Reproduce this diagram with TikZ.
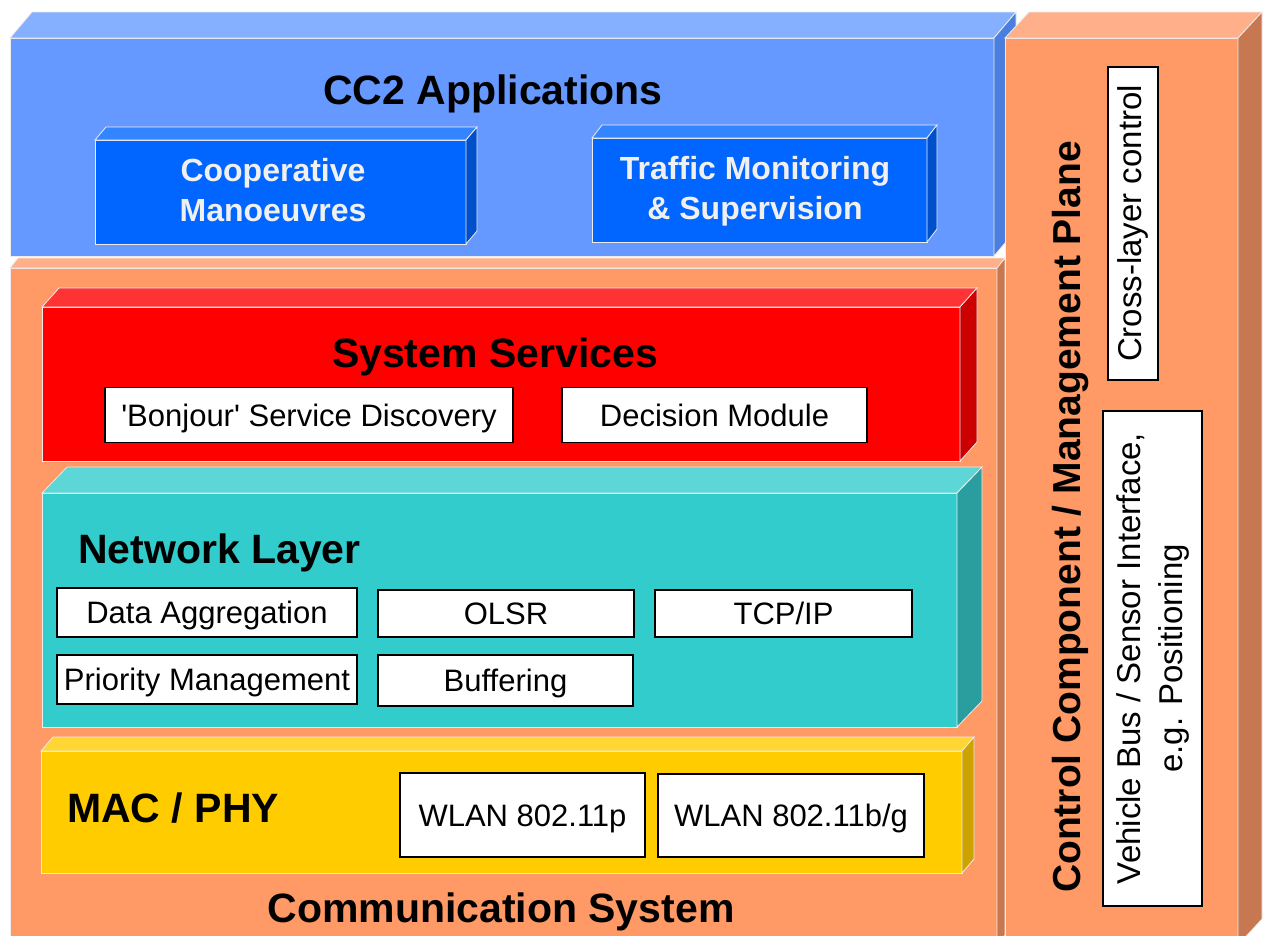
\documentclass[tikz,border=0pt]{standalone}
\usepackage{fontspec}
\setmainfont{Liberation Sans}
\definecolor{bluefront}{HTML}{6699FF}
\definecolor{bluetop}{HTML}{85B0FF}
\definecolor{blueside}{HTML}{4A7FE0}
\definecolor{dbfront}{HTML}{0066FF}
\definecolor{dbtop}{HTML}{3385FF}
\definecolor{dbside}{HTML}{0050CC}
\definecolor{orfront}{HTML}{FF9966}
\definecolor{ortop}{HTML}{FFB08A}
\definecolor{orside}{HTML}{C87850}
\definecolor{redfront}{HTML}{FF0000}
\definecolor{redtop}{HTML}{FF3333}
\definecolor{redside}{HTML}{CC0000}
\definecolor{tealfront}{HTML}{33CCCC}
\definecolor{tealtop}{HTML}{5CD6D6}
\definecolor{tealside}{HTML}{2A9E9E}
\definecolor{yelfront}{HTML}{FFCC00}
\definecolor{yeltop}{HTML}{FFD633}
\definecolor{yelside}{HTML}{CCA300}
\newcommand\mycuboid[9]{%
  \filldraw[fill=#7,edge] (#1,#2) rectangle (#3,#4);
  \filldraw[fill=#8,edge] (#1,#2) -- ({#1+#5},{#2-#6}) -- ({#3+#5},{#2-#6}) -- (#3,#2) -- cycle;
  \filldraw[fill=#9,edge] (#3,#2) -- ({#3+#5},{#2-#6}) -- ({#3+#5},{#4-#6}) -- (#3,#4) -- cycle;
}
\begin{document}
\begin{tikzpicture}[x=1pt,y=-1pt,
  edge/.style={draw=white!85!gray,line width=0.8pt},
  title/.style={font=\fontsize{41}{48}\selectfont\bfseries,inner sep=0pt},
  lbl/.style={draw=black,line width=1.5pt,fill=white,inner sep=0pt,font=\fontsize{31}{40}\selectfont},
  lblone/.style={lbl,text height=28pt,text depth=6pt},
  vlbl/.style={lbl,rotate=90,font=\fontsize{33}{42}\selectfont},
  apptext/.style={text=white!94!black,font=\fontsize{32}{40}\selectfont\bfseries,align=center,inner sep=0pt}]
\clip (0,0) rectangle (1265,935);
\fill[white] (0,0) rectangle (1265,935);
% CC2 applications
\mycuboid{10}{38}{994}{256}{22}{26}{bluefront}{bluetop}{blueside}
\mycuboid{95}{140}{466}{244}{11}{13}{dbfront}{dbtop}{dbside}
\mycuboid{592}{138}{927}{242}{10}{13}{dbfront}{dbtop}{dbside}
% communication system
\mycuboid{10}{268}{997}{945}{8}{10}{orfront}{ortop}{orside}
% control plane
\mycuboid{1005}{38}{1238}{945}{24}{26}{orfront}{ortop}{orside}
% layers
\mycuboid{42}{307}{960}{461}{17}{19}{redfront}{redtop}{redside}
\mycuboid{42}{493}{957}{727}{25}{26}{tealfront}{tealtop}{tealside}
\mycuboid{41}{751}{962}{873}{12}{14}{yelfront}{yeltop}{yelside}
% texts
\node[title,anchor=base] (cc2) at (493,104) {CC2 Applications};
\node[apptext] (coop) at (273,190) {Cooperative\\Manoeuvres};
\node[apptext] (traffic) at (755,191) {Traffic Monitoring\\\& Supervision};
\node[title,anchor=base] (sys) at (495,367) {System Services};
\node[lblone,minimum width=408,minimum height=55] (bonjour) at (309,415) {\textquotesingle Bonjour\textquotesingle{} Service Discovery};
\node[lblone,minimum width=305,minimum height=55] (decision) at (714.5,415) {Decision Module};
\node[title,anchor=base west] (net) at (78,563) {Network Layer};
\node[lblone,minimum width=300,minimum height=49] (aggr) at (207,612.5) {Data Aggregation};
\node[lblone,minimum width=256,minimum height=47] (olsr) at (506,613.5) {OLSR};
\node[lblone,minimum width=257,minimum height=47] (tcp) at (783.5,613.5) {TCP/IP};
\node[lblone,minimum width=300,minimum height=49] (prio) at (207,679.5) {Priority Management};
\node[lblone,minimum width=255,minimum height=51] (buf) at (505.5,680.5) {Buffering};
\node[title,anchor=base west] (mac) at (67,822) {MAC / PHY};
\node[lblone,minimum width=245,minimum height=84] (wlanp) at (522.5,815) {WLAN 802.11p};
\node[lblone,minimum width=266,minimum height=83] (wlanbg) at (791,815.5) {WLAN 802.11b/g};
\node[title,anchor=base] (comm) at (501,922) {Communication System};
\node[title,font=\fontsize{39}{46}\selectfont\bfseries,rotate=90,anchor=base] (ctrl) at (1080,517) {Control Component / Management Plane};
\node[vlbl,minimum width=313,minimum height=50] (cross) at (1133,223.5) {Cross-layer control};
\node[vlbl,minimum width=495,minimum height=99,align=center] (vehicle) at (1152.5,658.5) {Vehicle Bus / Sensor Interface,\\e.g. Positioning};
\end{tikzpicture}
\end{document}
